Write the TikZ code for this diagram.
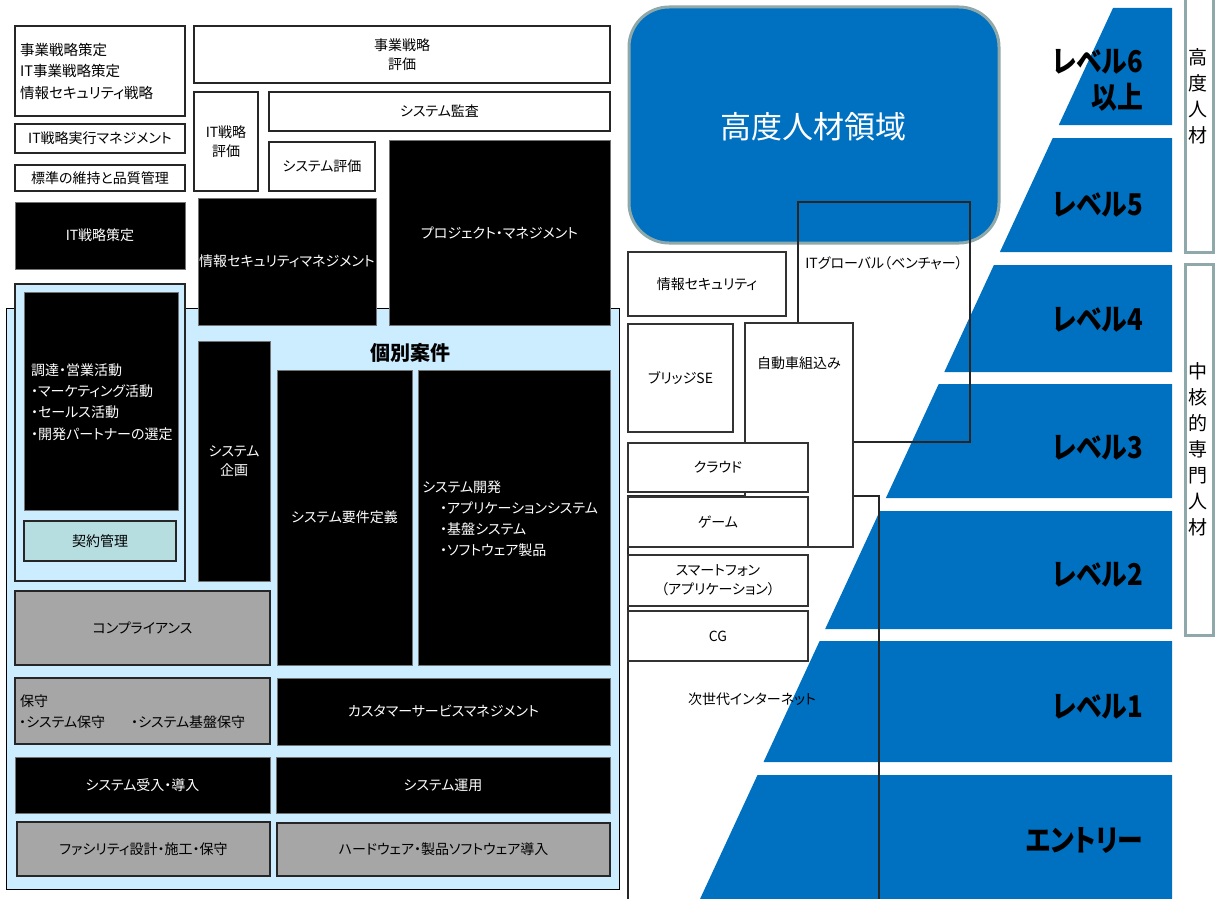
\documentclass[tikz,border=0pt]{standalone}
\usepackage{fontspec}
\usepackage{graphicx}
\setmainfont[RawFeature=+palt]{Noto Sans CJK JP}
\definecolor{lblue}{HTML}{CCECFF}
\definecolor{kblue}{HTML}{B6DDE0}
\definecolor{boxgray}{HTML}{A6A6A6}
\definecolor{lvblue}{HTML}{0070C0}
\definecolor{gborder}{HTML}{8FA8AA}
\newcommand\mybox[6]{\node[#1, minimum width={(#5)-(#3)}, minimum height={(#6)-(#4)}] (#2) at ({((#3)+(#5))/2},{((#4)+(#6))/2})}
\newcommand\band[2]{\fill[lvblue] ({1113-0.4635*((#1)-8)},#1) -- (1172,#1) -- (1172,#2) -- ({1113-0.4635*((#2)-8)},#2) -- cycle;}
\newcommand\lv[1]{\scalebox{0.86}[1]{\fontsize{30}{36}\selectfont\bfseries #1}}
\begin{document}
\begin{tikzpicture}[x=1pt,y=-1pt,
  txt/.style={font=\fontsize{14}{19}\selectfont, inner sep=0pt},
  wbox/.style={txt, draw=black!85, line width=1.6pt, fill=white, align=center},
  bbox/.style={txt, draw=black!55, line width=0.6pt, fill=black, text=white, align=center},
  gbox/.style={txt, draw=black!85, line width=1.6pt, fill=boxgray, align=center},
  mbox/.style={txt, draw=black!80, line width=2pt, fill=white, align=center},
  obox/.style={txt, draw=black!85, line width=2pt},
  vbox/.style={draw=gborder, line width=3pt, fill=white},
  lvl/.style={anchor=east, inner sep=0pt, align=right, font=\fontsize{30}{36}\selectfont},
  vtxt/.style={inner sep=0pt, align=center, font=\fontsize{19}{26}\selectfont}]
\useasboundingbox (0,0) rectangle (1215,899);
% ---------- left area ----------
\mybox{draw=black, line width=0.8pt, fill=lblue}{area}{6}{308}{619}{889} {};
\mybox{draw=black!85, line width=1.6pt, fill=lblue}{procure}{15}{284}{185}{581} {};
\mybox{wbox}{strat}{15}{26}{185}{116} {};
\node[txt, anchor=west, align=left, font=\fontsize{14.5}{21.5}\selectfont] (strattxt) at (20,71) {事業戦略策定\\IT事業戦略策定\\情報セキュリティ戦略};
\mybox{wbox}{itexec}{15}{124}{185}{153} {IT戦略実行マネジメント};
\mybox{wbox}{std}{15}{165}{185}{191} {標準の維持と品質管理};
\mybox{bbox}{itplan}{15}{202}{185}{269} {IT戦略策定};
\mybox{wbox}{bizeval}{194}{26}{610}{83} {事業戦略\\評価};
\mybox{wbox}{iteval}{194}{92}{258}{191} {IT戦略\\評価};
\mybox{wbox}{audit}{269}{92}{610}{131} {システム監査};
\mybox{wbox}{syseval}{269}{142}{375}{191} {システム評価};
\mybox{bbox}{pm}{389}{140}{610}{325} {プロジェクト・マネジメント};
\mybox{bbox}{secmgmt}{198}{198}{376}{325} {情報セキュリティマネジメント};
\mybox{bbox}{sales}{24}{292}{178}{510} {};
\node[txt, text=white, anchor=west, align=left, font=\fontsize{14}{21.3}\selectfont] (salestxt) at (31,402) {調達・営業活動\\・マーケティング活動\\・セールス活動\\・開発パートナーの選定};
\mybox{draw=black!85, line width=1.6pt, fill=kblue, txt}{contract}{24}{521}{176}{561} {契約管理};
\mybox{bbox}{sysplan}{198}{341}{270}{581} {システム\\企画};
\node[inner sep=0pt, font=\fontsize{20}{24}\selectfont\bfseries] (kobetsu) at (410,353) {個別案件};
\mybox{bbox}{req}{277}{370}{412}{665} {システム要件定義};
\mybox{bbox}{dev}{418}{370}{610}{665} {};
\node[txt, text=white, anchor=west, align=left, font=\fontsize{14}{21}\selectfont] (devtxt) at (422,518.5) {システム開発\\\hspace*{18pt}・アプリケーションシステム\\\hspace*{18pt}・基盤システム\\\hspace*{18pt}・ソフトウェア製品};
\mybox{gbox}{comp}{15}{591}{270}{665} {コンプライアンス};
\mybox{gbox}{maint}{15}{678}{270}{744} {};
\node[txt, anchor=west] (mainttxt) at (20,701) {保守};
\node[txt, anchor=west] (maintA) at (19,722) {・システム保守};
\node[txt, anchor=west] (maintB) at (131,722) {・システム基盤保守};
\mybox{bbox}{csm}{277}{678}{610}{745} {カスタマーサービスマネジメント};
\mybox{bbox}{accept}{15}{757}{270}{813} {システム受入・導入};
\mybox{bbox}{ops}{276}{757}{610}{813} {システム運用};
\mybox{gbox}{facility}{17}{822}{270}{876} {ファシリティ設計・施工・保守};
\mybox{gbox}{hw}{277}{823}{610}{876} {ハードウェア・製品ソフトウェア導入};
% ---------- pyramid ----------
\band{8}{125}
\band{138}{252}
\band{265}{372}
\band{384}{498}
\band{511}{629}
\band{641}{762}
\band{775}{899}
% ---------- advanced area ----------
\node[draw=gborder, line width=3pt, fill=lvblue, rounded corners=40pt, minimum width=370, minimum height=236, inner sep=0pt] (adv) at (814,125) {};
\node[inner sep=0pt, text=white, font=\fontsize{31}{31}\selectfont] (advtxt) at (813,127) {高度人材領域};
% ---------- middle column ----------
\mybox{obox}{nextnet}{628}{496}{879}{905} {};
\mybox{obox}{global}{798}{202}{970}{442} {};
\node[txt] (globaltxt) at (884,263) {ITグローバル（ベンチャー）};
\mybox{mbox}{infosec}{628}{252}{786}{316} {情報セキュリティ};
\mybox{mbox}{bridge}{628}{324}{733}{432} {ブリッジSE};
\mybox{mbox}{auto}{745}{323}{853}{547} {};
\node[txt] (autotxt) at (799,363) {自動車組込み};
\mybox{mbox}{cloud}{628}{443}{808}{492} {クラウド};
\mybox{mbox}{game}{628}{497}{808}{547} {ゲーム};
\mybox{mbox}{smart}{628}{555}{808}{606} {スマートフォン\\（アプリケーション）};
\mybox{mbox}{cg}{628}{611}{808}{661} {CG};
\node[txt] (nexttxt) at (752,699) {次世代インターネット};
% ---------- level labels ----------
\node[lvl] (l6) at (1143,80) {\lv{レベル6}\\\lv{以上}};
\node[lvl] (l5) at (1143,205) {\lv{レベル5}};
\node[lvl] (l4) at (1143,320) {\lv{レベル4}};
\node[lvl] (l3) at (1143,448) {\lv{レベル3}};
\node[lvl] (l2) at (1143,575) {\lv{レベル2}};
\node[lvl] (l1) at (1143,707) {\lv{レベル1}};
\node[lvl] (l0) at (1143,840) {\lv{エントリー}};
% ---------- right vertical boxes ----------
\mybox{vbox}{high}{1185}{-6}{1213}{252} {};
\node[vtxt] (hightxt) at (1198,96) {高\\度\\人\\材};
\mybox{vbox}{core}{1185}{264}{1213}{635} {};
\node[vtxt] (coretxt) at (1198,449) {中\\核\\的\\専\\門\\人\\材};
\end{tikzpicture}
\end{document}
